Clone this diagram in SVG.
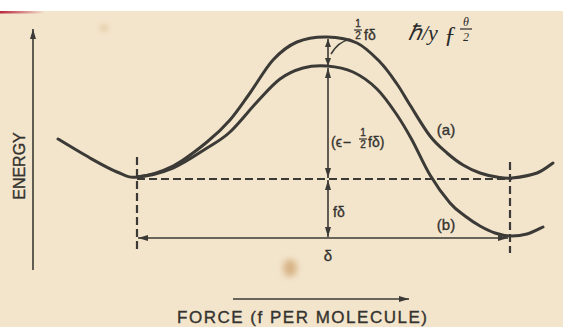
<svg xmlns="http://www.w3.org/2000/svg" width="563" height="327" viewBox="0 0 563 327">
<style>
.curve{fill:none;stroke:#3b3a36;stroke-width:3;stroke-linecap:round;stroke-linejoin:round}
.thin{fill:none;stroke:#3b3a36;stroke-width:1.6}
.dash{fill:none;stroke:#3b3a36;stroke-width:2.2;stroke-dasharray:8 4}
.lbl{font-family:"Liberation Sans",Arial,sans-serif;fill:#34332f;stroke:#34332f;stroke-width:0.35}
.hand{font-family:"Liberation Serif",serif;font-style:italic;fill:#2a2a2a}
</style>
<defs>
<marker id="ah" viewBox="0 0 10 6" refX="10" refY="3" markerWidth="10" markerHeight="6" markerUnits="userSpaceOnUse" orient="auto-start-reverse">
<path d="M0,0 L10,3 L0,6 Z" fill="#3b3a36"/>
</marker>
<marker id="ahs" viewBox="0 0 8 6" refX="8" refY="3" markerWidth="8" markerHeight="6" markerUnits="userSpaceOnUse" orient="auto-start-reverse">
<path d="M0,0 L8,3 L0,6 Z" fill="#3b3a36"/>
</marker>
<linearGradient id="red" x1="0" x2="1" y1="0" y2="0">
<stop offset="0" stop-color="#b8283c"/>
<stop offset="1" stop-color="#b8283c" stop-opacity="0"/>
</linearGradient>
<filter id="blur" x="-1" y="-1" width="3" height="3"><feGaussianBlur stdDeviation="3"/></filter>
</defs>

<rect x="0" y="0" width="563" height="327" fill="#f3e5cc"/>
<rect x="0" y="0" width="563" height="11" fill="#ffffff"/>
<rect x="0" y="11" width="45" height="2.5" fill="url(#red)"/>
<ellipse cx="290" cy="268" rx="7" ry="9" fill="#c08a4c" opacity="0.55" filter="url(#blur)"/>
<ellipse cx="104" cy="28" rx="3" ry="3" fill="#c08a4c" opacity="0.5" filter="url(#blur)"/>

<g id="axes">
<line class="thin" x1="33" y1="270" x2="33" y2="29" marker-end="url(#ah)"/>
<text class="lbl" font-size="16" transform="translate(25,166) rotate(-90)" text-anchor="middle">ENERGY</text>
<line class="thin" x1="233" y1="299" x2="409" y2="299" marker-end="url(#ah)"/>
<text class="lbl" font-size="17" x="177" y="323" textLength="250" lengthAdjust="spacing">FORCE  (f PER MOLECULE)</text>
</g>

<g id="guides">
<line class="dash" x1="137" y1="179" x2="512" y2="179"/>
<line class="dash" x1="137" y1="157" x2="137" y2="251"/>
<line class="dash" x1="510" y1="162" x2="510" y2="253"/>
</g>

<g id="curve-a">
<path class="curve" d="M58,139 C63.3,142.2 80.2,152.5 90,158 C99.8,163.5 109.2,168.8 117,172 C124.8,175.2 127.7,178 137,177 C146.3,176 161.3,171.8 173,166 C184.7,160.2 197.5,149.7 207,142 C216.5,134.3 222.8,128.2 230,120 C237.2,111.8 242.8,103 250,93 C257.2,83 265.2,68.5 273,60 C280.8,51.5 288,45.8 297,42 C306,38.2 317,36.8 327,37 C337,37.2 348.2,38.8 357,43 C365.8,47.2 373.3,55.2 380,62 C386.7,68.8 392,76.8 397,84 C402,91.2 404.5,96.3 410,105 C415.5,113.7 423.8,128 430,136 C436.2,144 441.5,148.2 447,153 C452.5,157.8 457.5,161.7 463,165 C468.5,168.3 474.3,171 480,173 C485.7,175 491.7,176.2 497,177 C502.3,177.8 505.3,178.7 512,178 C518.7,177.3 530.2,175.5 537,173 C543.8,170.5 550.3,164.7 553,163"/>
<text class="lbl" font-size="15" x="446" y="135" text-anchor="middle">(a)</text>
</g>

<g id="curve-b">
<path class="curve" d="M137,177 C146.3,176.3 161.3,172.8 173,168 C184.7,163.2 197.5,154 207,148 C216.5,142 221.7,139.7 230,132 C238.3,124.3 248.7,110.8 257,102 C265.3,93.2 272.3,84.7 280,79 C287.7,73.3 295.2,70.2 303,68 C310.8,65.8 318.7,65.3 327,66 C335.3,66.7 344.7,68.2 353,72 C361.3,75.8 369.7,81.8 377,89 C384.3,96.2 391.2,106.5 397,115 C402.8,123.5 406.5,130 412,140 C417.5,150 423.7,164.5 430,175 C436.3,185.5 444.2,196.2 450,203 C455.8,209.8 460,212.2 465,216 C470,219.8 475,223.2 480,226 C485,228.8 490,231.3 495,233 C500,234.7 504.7,235.8 510,236 C515.3,236.2 521.5,235.5 527,234 C532.5,232.5 540.3,228.2 543,227"/>
<text class="lbl" font-size="15" x="446" y="230" text-anchor="middle">(b)</text>
</g>

<g id="connectors">
<line class="thin" x1="328" y1="52" x2="328" y2="39" marker-end="url(#ahs)"/>
<line class="thin" x1="328" y1="52" x2="328" y2="66" marker-end="url(#ahs)"/>
<line class="thin" x1="328" y1="68" x2="328" y2="178" marker-start="url(#ah)" marker-end="url(#ah)"/>
<line class="thin" x1="328" y1="180" x2="328" y2="237" marker-start="url(#ah)" marker-end="url(#ah)"/>
<line class="thin" x1="138" y1="238" x2="508" y2="238" marker-start="url(#ah)" marker-end="url(#ah)"/>
<path class="thin" d="M350,39 Q338,42 331,54"/>
</g>

<g id="labels">
<text class="lbl" font-size="10" x="358" y="27" text-anchor="middle">1</text>
<line x1="354" y1="30" x2="362" y2="30" stroke="#34332f" stroke-width="1.2"/>
<text class="lbl" font-size="10" x="358" y="39" text-anchor="middle">2</text>
<text class="lbl" font-size="14" x="364" y="40">fδ</text>

<text class="lbl" font-size="14" x="331" y="147">(ϵ<tspan dx="1">−</tspan></text>
<text class="lbl" font-size="10" x="363" y="136" text-anchor="middle">1</text>
<line x1="359" y1="139" x2="367" y2="139" stroke="#34332f" stroke-width="1.2"/>
<text class="lbl" font-size="10" x="363" y="148" text-anchor="middle">2</text>
<text class="lbl" font-size="14" x="368" y="147">fδ)</text>

<text class="lbl" font-size="14" x="333" y="217">fδ</text>
<text class="lbl" font-size="15" x="328" y="261" text-anchor="middle">δ</text>
</g>

<g id="annotation">
<text class="hand" font-size="22" x="408" y="40">ℏ/y</text>
<text class="hand" font-size="24" x="444" y="42">ƒ</text>
<text class="hand" font-size="12" x="466" y="26" text-anchor="middle">θ</text>
<line x1="460" y1="29" x2="472" y2="29" stroke="#2a2a2a" stroke-width="1.2"/>
<text class="hand" font-size="12" x="466" y="41" text-anchor="middle">2</text>
</g>
</svg>
